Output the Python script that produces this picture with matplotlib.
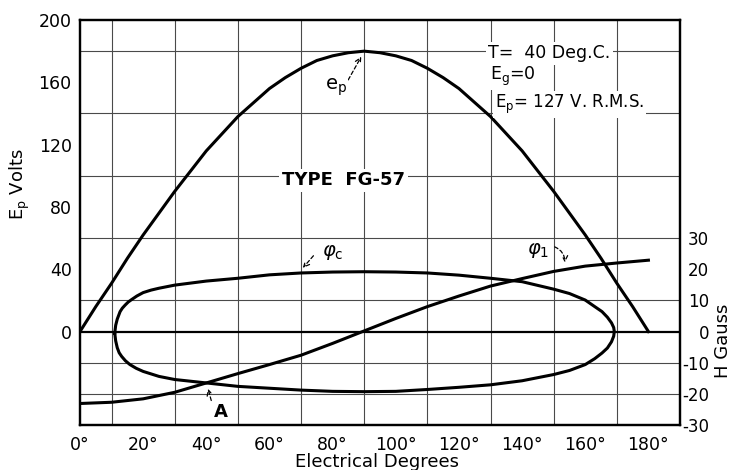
import matplotlib
matplotlib.use("Agg")
import matplotlib.pyplot as plt

# ---------------- data ----------------
# plate voltage e_p (volts) vs electrical degrees
ep_deg = [0, 5, 10, 15, 20, 25, 30, 35, 40, 45, 50, 55, 60, 65, 70, 75, 80, 85, 90,
          95, 100, 105, 110, 115, 120, 125, 130, 135, 140, 145, 150, 155, 160, 165, 170, 175, 180]
ep_volts = [0, 16, 31, 47, 62, 76, 90, 103, 116, 127, 138, 147, 156, 163, 169, 174, 177, 179, 180,
            179, 177, 174, 169, 163, 156, 147, 138, 127, 116, 103, 90, 76, 62, 47, 31, 16, 0]

# phi_1 (gauss) vs electrical degrees
phi1_deg = [0, 10, 20, 30, 40, 50, 60, 70, 80, 90, 100, 110, 120, 130, 140, 150, 160, 170, 180]
phi1_gauss = [-23.1, -22.7, -21.6, -19.5, -16.5, -13.5, -10.6, -7.6, -3.8, 0.2, 4.2, 8.0, 11.4,
              14.6, 17.0, 19.3, 21.0, 22.0, 22.9]

# phi_c loop (gauss): upper branch left->right, lower branch right->left
phic_up_deg = [11.0, 11.3, 11.8, 12.7, 13.4, 14.3, 15.3, 16.4, 18.0, 20, 22.5, 25, 30, 40, 50,
               60, 70, 80, 90, 100, 110, 120, 130, 140, 150, 155, 160, 163, 165.3, 167.0, 168.3,
               169.0, 169.2]
phic_up_gauss = [-0.5, 2.0, 4.0, 6.4, 7.5, 8.5, 9.5, 10.3, 11.4, 12.5, 13.3, 13.9, 14.9, 16.2,
                 17.1, 18.2, 18.8, 19.1, 19.2, 19.1, 18.8, 18.1, 17.1, 16.0, 13.6, 12.2, 10.1,
                 8.0, 6.4, 4.6, 2.8, 1.3, 0]
phic_lo_deg = [169.0, 168.3, 167.0, 165.3, 163, 160, 155, 150, 140, 130, 120, 110, 100, 90, 80,
               70, 60, 50, 40, 30, 25, 20, 17.8, 15.8, 14.4, 13.2, 12.4, 11.8, 11.3, 11.0]
phic_lo_gauss = [-1.5, -3.3, -5.3, -6.9, -8.7, -10.6, -12.5, -13.8, -15.8, -17.1, -17.9, -18.6,
                 -19.2, -19.3, -19.2, -18.8, -18.2, -17.6, -16.5, -15.4, -14.4, -12.8, -11.8,
                 -10.6, -9.4, -8.0, -6.8, -5.2, -3.0, -0.5]

x_ticks = [0, 20, 40, 60, 80, 100, 120, 140, 160, 180]
x_tick_labels = [f"{v}°" for v in x_ticks]
left_ticks = [0, 40, 80, 120, 160, 200]
left_tick_labels = [str(v) for v in left_ticks]
right_ticks = [30, 20, 10, 0, -10, -20, -30]
right_tick_labels = [str(v) for v in right_ticks]

# ---------------- figure ----------------
plt.rcParams['font.family'] = ['DejaVu Sans']
fig = plt.figure(figsize=(7.32, 4.70), dpi=100)
W, H = 732, 470
ax = fig.add_axes([80 / W, 45 / H, 600 / W, 405 / H])
ax.set_xlim(0, 190)
ax.set_ylim(-60, 200)

# grid
ax.set_xticks(range(0, 191, 10), minor=True)
ax.set_yticks(range(-60, 201, 20), minor=True)
ax.grid(which='minor', color='#4a4a4a', lw=0.8)
ax.set_axisbelow(True)
ax.axhline(0, color='black', lw=1.6, zorder=2)

ax.set_xticks(x_ticks)
ax.set_xticklabels(x_tick_labels, fontsize=12.5)
ax.set_yticks(left_ticks)
ax.set_yticklabels(left_tick_labels, fontsize=12.5)
ax.tick_params(axis='both', which='both', length=0)
ax.tick_params(axis='x', pad=8)
ax.tick_params(axis='y', pad=6)
for s in ax.spines.values():
    s.set_linewidth(1.6)

ax2 = ax.twinx()
ax2.set_ylim(-30, 100)
ax2.set_yticks(right_ticks)
ax2.set_yticklabels(right_tick_labels, fontsize=12)
ax2.tick_params(axis='y', length=0, pad=21)
for lab in ax2.get_yticklabels():
    lab.set_ha('right')
for s in ax2.spines.values():
    s.set_linewidth(1.6)

lw = 2.2
ax.plot(ep_deg, ep_volts, color='black', lw=lw, solid_joinstyle='round', zorder=3)
ax2.plot(phi1_deg, phi1_gauss, color='black', lw=lw, solid_joinstyle='round', zorder=3)
ax2.plot(phic_up_deg + phic_lo_deg, phic_up_gauss + phic_lo_gauss, color='black', lw=lw,
         solid_joinstyle='round', zorder=3)

# annotations
dash = (0, (3, 2))
ax.annotate('', xy=(89.5, 178), xytext=(84.5, 160),
            arrowprops=dict(arrowstyle='->', ls=dash, lw=0.9, color='black'))
ax.text(77.5, 157, 'e$_{\\rm p}$', fontsize=14, ha='left', va='center',
        bbox=dict(fc='white', ec='none', pad=0.5))

ax.annotate('', xy=(70, 39.5), xytext=(74.5, 50),
            arrowprops=dict(arrowstyle='->', ls=dash, lw=0.9, color='black'))
ax.text(76.5, 51, '$\\varphi_{\\rm c}$', fontsize=14, ha='left', va='center')

ax.annotate('', xy=(153.5, 42.5), xytext=(149.5, 55),
            arrowprops=dict(arrowstyle='->', ls=dash, lw=0.9, color='black',
                            connectionstyle='arc3,rad=-0.4'))
ax.text(141.5, 52, '$\\varphi_{1}$', fontsize=14, ha='left', va='center')

ax.annotate('', xy=(40.3, -35), xytext=(41.8, -46),
            arrowprops=dict(arrowstyle='->', ls=dash, lw=0.9, color='black'))
ax.text(42.5, -51.5, 'A', fontsize=13, ha='left', va='center', fontweight='bold')

ax.text(83.4, 97, 'TYPE  FG-57', fontsize=13, ha='center', va='center', fontweight='bold',
        bbox=dict(fc='white', ec='none', pad=2))

ax.text(129.3, 178.5, 'T=  40 Deg.C.', fontsize=12.5, ha='left', va='center',
        bbox=dict(fc='white', ec='none', pad=1.5))
ax.text(129.8, 164, 'E$_{\\rm g}$=0', fontsize=12.5, ha='left', va='center',
        bbox=dict(fc='white', ec='none', pad=1.5))
ax.text(131.3, 146, 'E$_{\\rm p}$= 127 V. R.M.S.', fontsize=12, ha='left', va='center',
        bbox=dict(fc='white', ec='none', pad=1.5))

# axis titles
fig.text(20 / W, 1 - 184 / H, 'E$_{\\rm p}$ Volts', rotation=90, ha='center', va='center',
         fontsize=13)
fig.text(723 / W, 1 - 341 / H, 'H Gauss', rotation=90, ha='center', va='center', fontsize=13)
fig.text(377 / W, 1 - 462 / H, 'Electrical Degrees', ha='center', va='center', fontsize=13)

fig.savefig('out.png', dpi=100, facecolor='white')
